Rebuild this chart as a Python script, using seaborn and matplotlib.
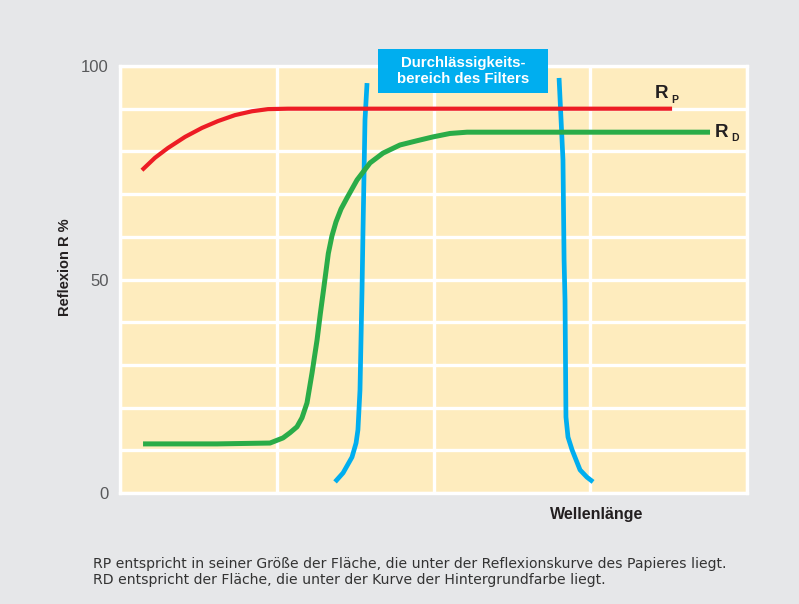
import numpy as np
import pandas as pd
import matplotlib.pyplot as plt
import seaborn as sns
from matplotlib.patches import Rectangle

# wavelength is unitless here: the 4 grid columns span 0..4
rp_x = [0.140, 0.223, 0.306, 0.415, 0.523, 0.625, 0.734, 0.842, 0.944, 1.072, 3.522]
rp_y = [75.6, 78.5, 80.8, 83.4, 85.5, 87.1, 88.5, 89.4, 89.9, 90.0, 90.0]

rd_x = [0.147, 0.619, 0.957, 1.040, 1.084, 1.129, 1.161, 1.193, 1.225, 1.257,
        1.278, 1.300, 1.329, 1.352, 1.378, 1.410, 1.448, 1.512, 1.595, 1.678,
        1.786, 1.895, 1.997, 2.105, 2.214, 3.764]
rd_y = [11.5, 11.5, 11.7, 12.9, 14.1, 15.5, 17.6, 21.1, 28.1, 35.8,
        42.0, 48.0, 56.1, 60.2, 63.5, 66.5, 69.1, 73.3, 77.3, 79.6,
        81.5, 82.5, 83.4, 84.2, 84.5, 84.5]

filt_left_x = [1.372, 1.423, 1.480, 1.506, 1.518, 1.531, 1.544, 1.550, 1.563, 1.576]
filt_left_y = [2.6, 4.7, 8.4, 11.7, 14.8, 24.1, 47.5, 60.9, 87.4, 96.0]

filt_right_x = [2.801, 2.826, 2.833, 2.839, 2.845, 2.858, 2.884, 2.935, 2.979, 3.018]
filt_right_y = [97.2, 78.0, 54.6, 45.2, 17.8, 13.1, 10.1, 5.4, 3.7, 2.6]

y_ticks = [0, 50, 100]
y_grid = list(range(0, 101, 10))
x_grid = [0, 1, 2, 3, 4]

bg = '#e6e7e9'
fill = '#feecbe'
red = '#ed1c24'
green = '#2aac48'
blue = '#00aeef'
dark = '#231f20'

sns.set_style('white', rc={'axes.facecolor': fill, 'figure.facecolor': bg})
plt.rcParams['font.family'] = ['Liberation Sans', 'DejaVu Sans']

W, H = 799, 604
fig = plt.figure(figsize=(W / 100, H / 100), dpi=100)
ax = fig.add_axes([120 / W, 1 - 493 / H, 627 / W, 427 / H])

def px(x, y):
    return x / W, 1 - y / H

lines = [
    (filt_left_x, filt_left_y, blue, 3.4),
    (filt_right_x, filt_right_y, blue, 3.4),
    (rp_x, rp_y, red, 3.0),
    (rd_x, rd_y, green, 3.6),
]
for xs, ys, col, lw in lines:
    d = pd.DataFrame({'x': xs, 'y': ys})
    sns.lineplot(data=d, x='x', y='y', sort=False, estimator=None, color=col,
                 linewidth=lw, ax=ax, solid_capstyle='butt', solid_joinstyle='round')

ax.set_xlim(0, 4)
ax.set_ylim(0, 100)
ax.set_xticks(x_grid)
ax.set_xticklabels([])
ax.set_yticks(y_grid)
ax.set_yticklabels([str(v) if v in y_ticks else '' for v in y_grid])
ax.grid(True, color='white', linewidth=2.4)
ax.set_axisbelow(True)
ax.tick_params(length=0, labelsize=12, labelcolor='#58595b', pad=8)
for s in ax.spines.values():
    s.set_color('white')
    s.set_linewidth(2.4)
ax.set_xlabel('')
ax.set_ylabel('')

# axis titles
fig.text(*px(65, 267), 'Reflexion R %', rotation=90, ha='center', va='center',
         fontsize=10.5, fontweight='bold', color=dark)
fig.text(*px(597, 515), 'Wellenlänge', ha='center', va='center',
         fontsize=11.5, fontweight='bold', color=dark)

# curve labels
fig.text(*px(655, 98), 'R', ha='left', va='baseline', fontsize=13.5, fontweight='bold', color=dark)
fig.text(*px(671, 103), 'P', ha='left', va='baseline', fontsize=7.5, fontweight='bold', color=dark)
fig.text(*px(715, 137), 'R', ha='left', va='baseline', fontsize=13.5, fontweight='bold', color=dark)
fig.text(*px(731, 141), 'D', ha='left', va='baseline', fontsize=7.5, fontweight='bold', color=dark)

# filter pass-band box
x0, y0 = px(378, 93)
fig.patches.append(Rectangle((x0, y0), 170 / W, 44 / H, transform=fig.transFigure,
                             facecolor=blue, edgecolor='none', zorder=5))
fig.text(*px(463, 71), 'Durchlässigkeits-\nbereich des Filters', ha='center', va='center',
         fontsize=10.8, fontweight='bold', color='white', linespacing=1.2, zorder=6)

# footnote
fig.text(*px(93, 572), 'RP entspricht in seiner Größe der Fläche, die unter der Reflexionskurve des Papieres liegt.\n'
         'RD entspricht der Fläche, die unter der Kurve der Hintergrundfarbe liegt.',
         ha='left', va='center', fontsize=10.05, color='#333333', linespacing=1.15,
         family=['DejaVu Sans'])

fig.savefig('out.png', dpi=100, facecolor=bg)
